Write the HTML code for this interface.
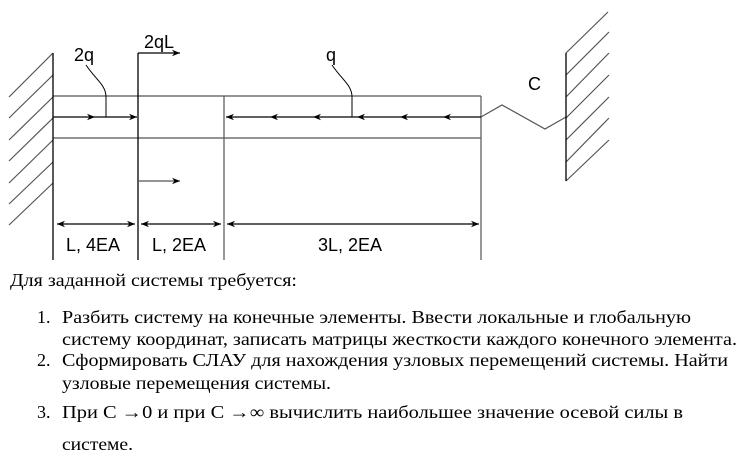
<!DOCTYPE html>
<html><head><meta charset="utf-8"><style>
html,body{margin:0;padding:0;background:#fff;}
svg{display:block;}
.s{font-family:"Liberation Sans",Arial,sans-serif;font-size:18px;fill:#000;}
.t{font-family:"Liberation Serif","Times New Roman",Times,serif;font-size:18px;fill:#000;}
</style></head><body>
<svg width="744" height="465" viewBox="0 0 744 465" xmlns="http://www.w3.org/2000/svg">
<defs>
<marker id="a" viewBox="0 0 10 10" refX="10" refY="5" markerWidth="8" markerHeight="8" orient="auto-start-reverse" markerUnits="userSpaceOnUse"><path d="M0,1 L10,5 L0,9 L3,5 z" fill="#000"/></marker>
</defs>
<g stroke="#555" stroke-width="1.2" fill="none">
<path d="M53,53 L9,97 M53,75 L9,118 M53,97 L9,140 M53,118 L9,161 M53,140 L9,183 M53,162 L9,204 M53,183 L9,225"/>
<path d="M566,53 L608,12 M566,75 L609,32 M566,97 L609,53 M566,118 L609,75 M566,140 L609,97 M566,162 L609,118 M566,181 L609,140"/>
<path d="M53,96 L481,96 M53,138 L481,138 M481,96 L481,260 M224,96 L224,260"/>
<path d="M481,117 L502,105 L545,129 L566,117"/>
</g>
<g stroke="#000" stroke-width="1.3" fill="none">
<path d="M53,53 L53,260 M138,53 L138,260 M566,53 L566,181"/>
<path d="M138,53 L180,53" marker-end="url(#a)"/>
<path d="M138,181 L180,181" stroke="#555" marker-end="url(#a)"/>
<path d="M53,117 L95,117" marker-end="url(#a)"/>
<path d="M95,117 L137,117" marker-end="url(#a)"/>
<path d="M481,117 L443,117" marker-end="url(#a)"/>
<path d="M443,117 L400,117" marker-end="url(#a)"/>
<path d="M400,117 L357,117" marker-end="url(#a)"/>
<path d="M357,117 L313,117" marker-end="url(#a)"/>
<path d="M313,117 L270,117" marker-end="url(#a)"/>
<path d="M270,117 L226,117" marker-end="url(#a)"/>
<path d="M86,65 C96,80 106,85 106,97 L106,117" stroke-width="1"/>
<path d="M332,65 C342,80 352,85 352,97 L352,117" stroke-width="1"/>
<path d="M57,224 L135,224" marker-start="url(#a)" marker-end="url(#a)"/>
<path d="M141,224 L221,224" marker-start="url(#a)" marker-end="url(#a)"/>
<path d="M227,224 L479,224" marker-start="url(#a)" marker-end="url(#a)"/>
</g>
<text class="s" x="74" y="61">2q</text>
<text class="s" x="144" y="48">2qL</text>
<text class="s" x="326" y="61">q</text>
<text class="s" x="528" y="90">C</text>
<text class="s" x="66" y="251">L, 4EA</text>
<text class="s" x="152" y="251">L, 2EA</text>
<text class="s" x="318" y="251">3L, 2EA</text>

<text class="t" x="10" y="286" textLength="287" lengthAdjust="spacingAndGlyphs">Для заданной системы требуется:</text>
<text class="t" x="37" y="323">1.</text>
<text class="t" x="62" y="323" textLength="629" lengthAdjust="spacingAndGlyphs">Разбить систему на конечные элементы. Ввести локальные и глобальную</text>
<text class="t" x="62" y="345" textLength="675" lengthAdjust="spacingAndGlyphs">систему координат, записать матрицы жесткости каждого конечного элемента.</text>
<text class="t" x="37" y="366">2.</text>
<text class="t" x="62" y="366" textLength="666" lengthAdjust="spacingAndGlyphs">Сформировать СЛАУ для нахождения узловых перемещений системы. Найти</text>
<text class="t" x="62" y="389" textLength="269" lengthAdjust="spacingAndGlyphs">узловые перемещения системы.</text>
<text class="t" x="37" y="418">3.</text>
<text class="t" x="62" y="418" textLength="621" lengthAdjust="spacingAndGlyphs">При С →0 и при С →∞ вычислить наибольшее значение осевой силы в</text>
<text class="t" x="62" y="450" textLength="71" lengthAdjust="spacingAndGlyphs">системе.</text>
</svg>
</body></html>
